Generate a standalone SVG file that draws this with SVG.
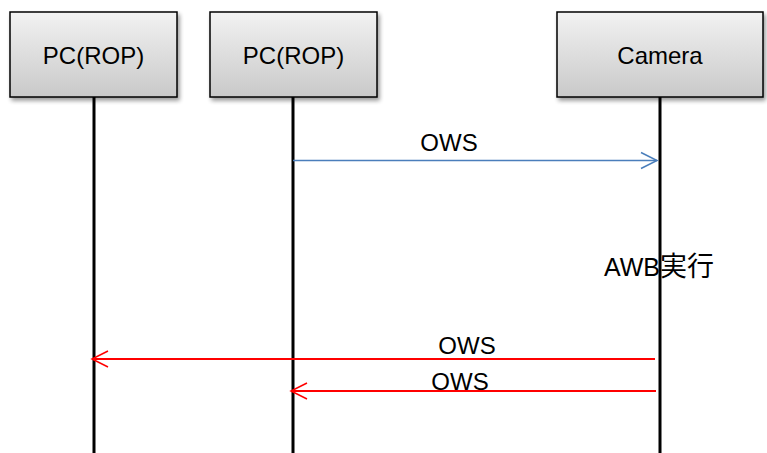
<svg xmlns="http://www.w3.org/2000/svg" width="767" height="453" viewBox="0 0 767 453">
<defs>
<linearGradient id="g" x1="0" y1="0" x2="0" y2="1">
<stop offset="0" stop-color="#f2f2f2"/>
<stop offset="1" stop-color="#c9c9c9"/>
</linearGradient>
<filter id="sh" x="-10%" y="-10%" width="130%" height="140%">
<feGaussianBlur in="SourceAlpha" stdDeviation="2"/>
<feOffset dx="2" dy="3"/>
<feComponentTransfer><feFuncA type="linear" slope="0.4"/></feComponentTransfer>
<feMerge><feMergeNode/><feMergeNode in="SourceGraphic"/></feMerge>
</filter>
<marker id="ab" viewBox="0 0 20 20" refX="18" refY="10" markerWidth="20" markerHeight="20" markerUnits="userSpaceOnUse" orient="auto">
<path d="M2,2 L18,10 L2,18" fill="none" stroke="#4a7ebb" stroke-width="1.5"/>
</marker>
<marker id="ar" viewBox="0 0 20 20" refX="18" refY="10" markerWidth="20" markerHeight="20" markerUnits="userSpaceOnUse" orient="auto">
<path d="M2,2 L18,10 L2,18" fill="none" stroke="#ff0000" stroke-width="1.5"/>
</marker>
</defs>
<style>
.box{fill:url(#g);stroke:#000;stroke-width:1.5;filter:url(#sh)}
.lbl{font-family:"Liberation Sans","Noto Sans CJK JP",sans-serif;font-size:24px;fill:#000}
.life{stroke:#000;stroke-width:3}
.t{font-family:"Liberation Sans","Noto Sans CJK JP",sans-serif;font-size:24px;fill:#000}
</style>
<g id="note-awb">
<text class="t" x="604" y="276" style="font-size:25px">AWB<tspan style="font-size:27px">実行</tspan></text>
</g>
<g id="lifelines">
<line class="life" x1="94" y1="97" x2="94" y2="453"/>
<line class="life" x1="293" y1="97" x2="293" y2="453"/>
<line class="life" x1="660" y1="97" x2="660" y2="453"/>
</g>
<g id="node-pc1">
<rect class="box" x="10" y="12" width="167" height="85"/>
<text class="lbl" x="93.5" y="64" text-anchor="middle">PC(ROP)</text>
</g>
<g id="node-pc2">
<rect class="box" x="210" y="12" width="167" height="85"/>
<text class="lbl" x="293.5" y="64" text-anchor="middle">PC(ROP)</text>
</g>
<g id="node-camera">
<rect class="box" x="557" y="12" width="206" height="85"/>
<text class="lbl" x="660" y="64" text-anchor="middle">Camera</text>
</g>
<g id="connectors">
<line x1="293" y1="160.5" x2="657" y2="160.5" stroke="#4a7ebb" stroke-width="1.5" marker-end="url(#ab)"/>
<text class="t" x="449" y="151" text-anchor="middle">OWS</text>
<line x1="655" y1="359" x2="92" y2="359" stroke="#ff0000" stroke-width="2" marker-end="url(#ar)"/>
<text class="t" x="467" y="354" text-anchor="middle">OWS</text>
<line x1="656" y1="391" x2="291" y2="391" stroke="#ff0000" stroke-width="2" marker-end="url(#ar)"/>
<text class="t" x="460" y="390" text-anchor="middle">OWS</text>
</g>
</svg>
